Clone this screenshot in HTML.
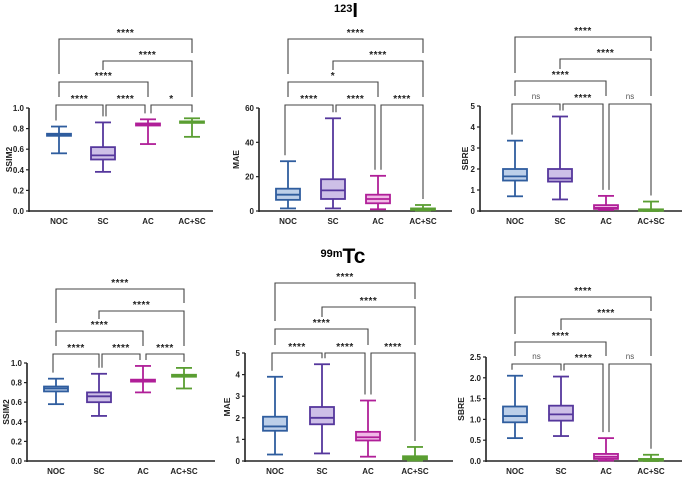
<!DOCTYPE html>
<html><head><meta charset="utf-8"><style>
html,body{margin:0;padding:0;background:#fff;}
svg{display:block;font-family:"Liberation Sans",sans-serif;}
</style></head><body>
<svg id="fig" width="685" height="477" viewBox="0 0 685 477" xmlns="http://www.w3.org/2000/svg">
<text x="346" y="17" text-anchor="middle" font-weight="bold"><tspan font-size="11" dy="-5">123</tspan><tspan font-size="20" dy="5">I</tspan></text>
<text x="343" y="263" text-anchor="middle" font-weight="bold"><tspan font-size="11" dy="-6">99m</tspan><tspan font-size="21" dy="6">Tc</tspan></text>
</svg>
<script>
const categories = ["NOC","SC","AC","AC+SC"];
// [min, q1, median, q3, max]
const ssimI = [[0.56,0.73,0.74,0.75,0.82],[0.38,0.50,0.54,0.62,0.86],[0.65,0.83,0.84,0.85,0.89],[0.72,0.86,0.865,0.87,0.90]];
const maeI = [[1.5,6.5,9.5,13,29],[1.5,7,12,18.5,54],[1,4.5,7,9.5,20.5],[0.3,0.7,1,1.5,3.5]];
const sbreI = [[0.7,1.45,1.65,2.0,3.35],[0.55,1.4,1.55,2.0,4.5],[0.05,0.1,0.15,0.28,0.72],[0,0.02,0.04,0.08,0.45]];
const ssimTc = [[0.58,0.71,0.74,0.76,0.84],[0.46,0.60,0.66,0.70,0.89],[0.70,0.81,0.82,0.83,0.97],[0.74,0.86,0.87,0.88,0.95]];
const maeTc = [[0.3,1.4,1.6,2.05,3.9],[0.35,1.7,2.0,2.5,4.48],[0.2,0.95,1.1,1.35,2.8],[0.02,0.08,0.15,0.22,0.65]];
const sbreTc = [[0.55,0.93,1.08,1.31,2.05],[0.6,0.97,1.12,1.33,2.03],[0.01,0.05,0.1,0.17,0.55],[0,0.01,0.03,0.05,0.15]];
const ticksSsim = ["0.0","0.2","0.4","0.6","0.8","1.0"];
const ticksMaeI = ["0","20","40","60"];
const ticksSbreI = ["0","1","2","3","4","5"];
const ticksMaeTc = ["0","1","2","3","4","5"];
const ticksSbreTc = ["0.0","0.5","1.0","1.5","2.0","2.5"];
const sigSsimI = ["****","****","*","****","****","****"];
const sigMaeI = ["****","****","****","*","****","****"];
const sigSbreI = ["ns","****","ns","****","****","****"];
const sigSsimTc = ["****","****","****","****","****","****"];
const sigMaeTc = ["****","****","****","****","****","****"];
const sigSbreTc = ["ns","****","ns","****","****","****"];

const stroke = ["#2f5d9e","#55379c","#b01f98","#5a9e32"];
const fill = ["#bccfe9","#cdbfe7","#f1b8e6","#bfe0a3"];
const NS="http://www.w3.org/2000/svg";
const svg=document.getElementById('fig');
function mk(tag,attrs,parent){const e=document.createElementNS(NS,tag);for(const k in attrs)e.setAttribute(k,attrs[k]);(parent||svg).appendChild(e);return e;}

const panels=[
 {name:"ssim2-123i",data:ssimI,ticks:ticksSsim,max:1.0,ylab:"SSIM2",sig:sigSsimI,ax:29,lo:17,top:108,bot:211,end:213,cx:[59,103,148,192],br:[105,82,61,39],xl:224},
 {name:"mae-123i",data:maeI,ticks:ticksMaeI,max:60,ylab:"MAE",sig:sigMaeI,ax:259,lo:20,top:108,bot:211,end:452,cx:[288,333,378,423],br:[105,82,61,39],xl:224},
 {name:"sbre-123i",data:sbreI,ticks:ticksSbreI,max:5,ylab:"SBRE",sig:sigSbreI,ax:480,lo:12,top:106,bot:211,end:682,cx:[515,560,606,651],br:[104,81,59,37],xl:224},
 {name:"ssim2-99mtc",data:ssimTc,ticks:ticksSsim,max:1.0,ylab:"SSIM2",sig:sigSsimTc,ax:27,lo:18,top:363,bot:461,end:215,cx:[56,99,143,184],br:[354,331,311,289],xl:474},
 {name:"mae-99mtc",data:maeTc,ticks:ticksMaeTc,max:5,ylab:"MAE",sig:sigMaeTc,ax:245,lo:15,top:353,bot:461,end:453,cx:[275,322,368,415],br:[353,329,307,283],xl:474},
 {name:"sbre-99mtc",data:sbreTc,ticks:ticksSbreTc,max:2.5,ylab:"SBRE",sig:sigSbreTc,ax:486,lo:22,top:357,bot:461,end:682,cx:[515,561,606,651],br:[364,342,319,297],xl:474}
];

panels.forEach(p=>{
 const g=mk('g',{});
 
 
 const y=v=>p.bot-(v/p.max)*(p.bot-p.top);
 const ya=mk('line',{x1:p.ax,y1:p.top,x2:p.ax,y2:p.bot+1,stroke:"#222","stroke-width":1.6},g);
 
 
 const xa=mk('line',{x1:p.ax,y1:p.bot,x2:p.end,y2:p.bot,stroke:"#222","stroke-width":1.6},g);
 
 
 p.ticks.forEach((t,i)=>{
  const v=parseFloat(t);const yy=y(v);
  mk('line',{x1:p.ax-3,y1:yy,x2:p.ax,y2:yy,stroke:"#222","stroke-width":1.2},g);
  const tx=mk('text',{x:p.ax-5,y:yy+3,"text-anchor":"end","font-size":8,"font-weight":"bold",fill:"#222"},g);
  tx.textContent=t;
  
  
 });
 const lx=p.ax-p.lo;const ly=(p.top+p.bot)/2;
 const yl=mk('text',{x:lx,y:ly,"text-anchor":"middle","font-size":8.5,"font-weight":"bold",fill:"#222",transform:`rotate(-90 ${lx} ${ly})`},g);
 yl.textContent=p.ylab;
 
 
 categories.forEach((c,i)=>{
  const cx=p.cx[i];const d=p.data[i];
  const t=mk('text',{x:cx,y:p.xl,"text-anchor":"middle","font-size":8,"font-weight":"bold",fill:"#222"},g);
  t.textContent=c;
  
  
  const bg=mk('g',{stroke:stroke[i],"stroke-width":1.8,fill:"none"},g);
  
  
  mk('line',{x1:cx,y1:y(d[0]),x2:cx,y2:y(d[1])},bg);
  mk('line',{x1:cx,y1:y(d[3]),x2:cx,y2:y(d[4])},bg);
  mk('line',{x1:cx-8,y1:y(d[0]),x2:cx+8,y2:y(d[0])},bg);
  mk('line',{x1:cx-8,y1:y(d[4]),x2:cx+8,y2:y(d[4])},bg);
  const h=Math.max(y(d[1])-y(d[3]),1.5);
  mk('rect',{x:cx-12,y:y(d[3]),width:24,height:h,fill:fill[i]},bg);
  mk('line',{x1:cx-12,y1:y(d[2]),x2:cx+12,y2:y(d[2])},bg);
 });
 const top=i=>y(p.data[i][4])-6;
 const b=p.br;
 const defs=[
  [0,1,0,top(0),top(1),-3,0],[1,2,0,top(1),top(2),3,-3],[2,3,0,top(2),top(3),3,0],
  [0,2,1,b[0]-8,b[0]-8,0,0],[1,3,2,b[1]-12,b[0]-8,0,0],[0,3,3,b[1]-8,b[2]-8,0,0]
 ];
 defs.forEach((d,k)=>{
  const x1=p.cx[d[0]]+d[5],x2=p.cx[d[1]]+d[6],yy=b[d[2]];
  const pl=mk('path',{d:`M${x1},${Math.max(d[3],yy+4)} V${yy} H${x2} V${Math.max(d[4],yy+4)}`,fill:"none",stroke:"#444","stroke-width":1.1},g);
  
  
  const s=p.sig[k];
  const st=mk('text',{x:(x1+x2)/2,y:yy-(s==="ns"?5:3),"text-anchor":"middle","font-size":s==="ns"?8:10,"font-weight":s==="ns"?"normal":"bold",fill:s==="ns"?"#555":"#222","letter-spacing":s==="ns"?0:0.5},g);
  st.textContent=s;
  
  
 });
});
</script>
</body></html>
